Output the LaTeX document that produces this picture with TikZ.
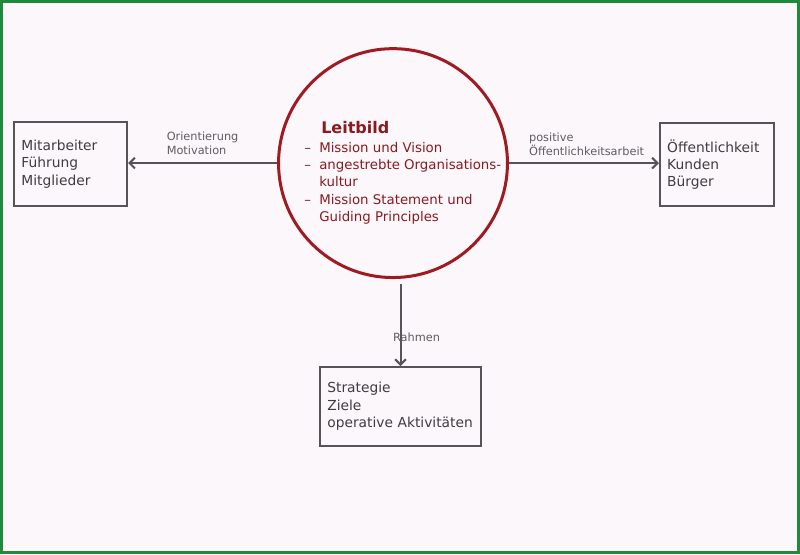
\documentclass[tikz,border=0pt]{standalone}
\usepackage{fontspec}
\setmainfont{DejaVu Sans}
\usetikzlibrary{arrows.meta}
\definecolor{cBg}{HTML}{FBF7FA}
\definecolor{cFrame}{HTML}{1F8A3C}
\definecolor{cRed}{HTML}{9E1B22}
\definecolor{cRedT}{HTML}{8A1A1F}
\definecolor{cBox}{HTML}{555459}
\definecolor{cTxt}{HTML}{3E3D42}
\definecolor{cLbl}{HTML}{5E5D62}
\tikzset{
  block/.style={draw=cBox,line width=1.5pt,align=left,inner xsep=5.5pt,inner ysep=0pt,font=\fontsize{10.35}{13}\selectfont,text=cTxt},
  core/.style={circle,draw=cRed,line width=2.25pt,minimum size=171.75pt,inner sep=0pt},
  coretxt/.style={align=left,inner sep=0pt,text=cRedT,font=\fontsize{10}{13}\selectfont},
  edge/.style={-{Straight Barb[length=4pt,width=8pt]},line width=1.5pt,draw=cBox},
  elbl/.style={font=\fontsize{8.5}{10.5}\selectfont,text=cLbl,align=left},
}
\newcommand{\dashitem}{\makebox[11.25pt][l]{--}}
\newcommand{\hangitem}{\hspace*{11.25pt}}

\begin{document}
\begin{tikzpicture}[x=0.75pt,y=-0.75pt]
  \fill[cBg] (0,0) rectangle (800,554);
  \draw[cFrame,line width=2.5pt] (1.5,1.5) rectangle (798.5,552.5);
  % Leitbild im Zentrum
  \node[core] (leit) at (393,163) {};
  \node[coretxt,anchor=north west] (leittxt) at (304,121) {\hspace*{12.75pt}{\fontsize{12}{14}\selectfont\bfseries Leitbild}\\[1pt]
    \dashitem Mission und Vision\\
    \dashitem angestrebte Organisations-\\
    \hangitem kultur\\
    \dashitem Mission Statement und\\
    \hangitem Guiding Principles};
  % Zielgruppen
  \node[block,text width=73.75pt,minimum height=63pt] (mit) at (70.5,164) {Mitarbeiter\\F\"uhrung\\Mitglieder};
  \node[block,text width=74.5pt,minimum height=62.25pt] (pub) at (717,164.5) {\"Offentlichkeit\\Kunden\\B\"urger};
  \node[block,text width=109.75pt,minimum height=59.25pt] (strat) at (400.5,406.5) {Strategie\\Ziele\\operative Aktivit\"aten};
  \draw[edge] (leit.west) -- node[elbl,above,yshift=2.25pt] {Orientierung\\Motivation} (mit.east |- leit.west);
  \draw[edge] (leit.east) -- node[elbl,above,yshift=1.5pt,xshift=2pt] {positive\\\"Offentlichkeitsarbeit} (pub.west |- leit.east);
  \draw[edge,shorten <=3.75pt] (strat.north |- leit.south) -- node[elbl,pos=0.67,xshift=12pt] {Rahmen} (strat.north);
\end{tikzpicture}
\end{document}
